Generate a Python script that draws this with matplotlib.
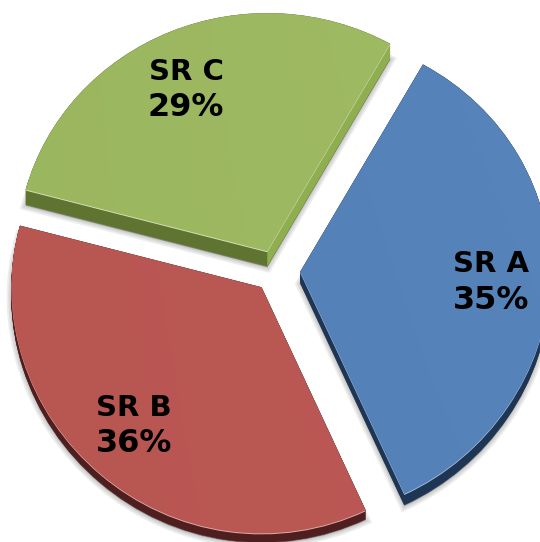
# -*- coding: utf-8 -*-
# Exploded pie with a fake 3D look (stacked offset wedges under the pie)
import numpy as np
import matplotlib
matplotlib.use("Agg")
import matplotlib.pyplot as plt
from matplotlib.patches import Wedge, Polygon
from matplotlib.transforms import Affine2D

names = ["SR A", "SR B", "SR C"]
shares = [35, 36, 29]

top_colors = ["#4F7FB8", "#BA534F", "#9BB85C"]
side_colors = ["#1E3654", "#4E1F1E", "#5F7431"]
rim_colors = ["#A9C0DC", "#DDAAA8", "#D3E0B4"]
depths = [11, 9, 15]                               # side height in pixels
label_px = [(491, 281), (134, 424), (186, 88)]     # label centres, pixels from top left
pull = [0.097, 0.09, 0.09]                         # how far each slice is pulled out

W, H = 540, 542
cx, cy = 276, 271                                  # pie centre in pixels
rx, ry = 250, 238                                  # tilted pie radius in pixels

# the near edge of the pie looks a bit bigger, so stretch y below v0
v0 = -0.122
k = 0.0376


def forward(v):
    v = np.asarray(v, dtype=float)
    u = np.minimum(v - v0, 0)
    return v - k * u ** 2


def inverse(t):
    t = np.asarray(t, dtype=float)
    s = np.minimum(t - v0, 0)
    return np.where(t < v0, v0 + (1 - np.sqrt(1 - 4 * k * s)) / (2 * k), t)


fig = plt.figure(figsize=(W / 100, H / 100), dpi=100, facecolor="white")
ax = fig.add_axes([0, 0, 1, 1])

wedges, _ = ax.pie(shares, explode=pull, startangle=60.6, counterclock=False,
                   colors=top_colors, wedgeprops=dict(edgecolor="none"))

# pie forces a square aspect, the tilt comes from the different x and y scales
ax.set_aspect("auto")
ax.set_yscale("function", functions=(forward, inverse))
ax.axis("off")


def copy_wedge(w, dy, **kw):
    move = ax.transData + Affine2D().translate(0, -dy)
    return Wedge(w.center, w.r, w.theta1, w.theta2, transform=move, **kw)


ramp = 0.55 + 0.45 * np.linspace(0, 1, 256).reshape(1, -1) * np.linspace(1, 0.6, 256).reshape(-1, 1)
for i, w in enumerate(wedges):
    w.set_zorder(5)
    d = depths[i]

    # soft shadow under the side
    for lw in (7, 4.5, 2):
        ax.add_patch(copy_wedge(w, d + 1, facecolor=(0, 0, 0, 0.10), edgecolor=(0, 0, 0, 0.07),
                                linewidth=lw, zorder=1))

    # side of the slice
    for step in range(d + 1):
        ax.add_patch(copy_wedge(w, step, facecolor=side_colors[i], edgecolor=side_colors[i],
                                linewidth=0.3, zorder=3))

    # thin light rim, only shows where the side is visible
    ax.add_patch(copy_wedge(w, 1, facecolor=rim_colors[i], edgecolor="none", zorder=4.5))

    # very light shading across the top face
    im = ax.imshow(ramp, cmap="gray", alpha=0.05, aspect="auto", zorder=6,
                   extent=[-1.2, 1.2, -1.4, 1.2], vmin=0, vmax=1)
    im.set_clip_path(w)

ax.set_xlim(-cx / rx, (W - cx) / rx)
ax.set_ylim(float(inverse((cy - H) / ry)), cy / ry)

# the right cut of the green slice faces the light
green = wedges[2]
ang = np.radians(green.theta1)
gx, gy = green.center
ex, ey = gx + green.r * np.cos(ang), gy + green.r * np.sin(ang)
drop = depths[2] / ry
ax.add_patch(Polygon([(gx, gy), (ex, ey), (ex, ey - drop), (gx, gy - drop)], closed=True,
                     facecolor="#8FAE50", edgecolor="none", zorder=4))

# labels are placed in axes fractions, i.e. plain pixels
for name, share, (px, py) in zip(names, shares, label_px):
    ax.text(px / W, 1 - (py - 16.5) / H, name, transform=ax.transAxes, ha="center", va="center",
            fontsize=21, fontweight="bold", family="DejaVu Sans", color="black", zorder=10)
    ax.text(px / W, 1 - (py + 19.5) / H, f"{share}%", transform=ax.transAxes, ha="center", va="center",
            fontsize=23, fontweight="bold", family="DejaVu Sans", color="black", zorder=10)

fig.savefig("out.png", dpi=100)
